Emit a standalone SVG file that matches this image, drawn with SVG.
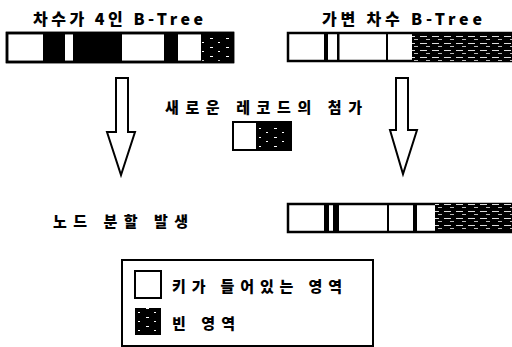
<svg xmlns="http://www.w3.org/2000/svg" width="512" height="347" viewBox="0 0 512 347">
<defs>
<pattern id="hatch" width="16" height="9" patternUnits="userSpaceOnUse">
<rect width="16" height="9" fill="#000"/>
<rect x="2" y="2" width="3" height="1" fill="#fff"/>
<rect x="10" y="6" width="2" height="1" fill="#fff"/>
</pattern>
<pattern id="hatch2" width="12" height="7" patternUnits="userSpaceOnUse">
<rect width="12" height="7" fill="#000"/>
<rect x="0" y="1" width="7" height="1" fill="#ddd"/>
<rect x="6" y="4" width="4" height="1" fill="#bbb"/>
</pattern>
</defs>
<style>
text{font-family:"Noto Sans CJK KR","Noto Sans",sans-serif;font-weight:900;fill:#000}
.t{font-size:16px}
.l{font-size:15px}
.bar{fill:#fff;stroke:#000;stroke-width:2.5}
.blk{fill:#000}
.arrow{fill:#fff;stroke:#000;stroke-width:2;stroke-linejoin:miter}
.box{fill:#fff;stroke:#000;stroke-width:2}
</style>
<rect width="512" height="347" fill="#fff"/>
<g id="title-left"><text class="t" x="33" y="25" textLength="170" lengthAdjust="spacing">차수가 4인 B-Tree</text></g>
<g id="title-right"><text class="t" x="322" y="25" textLength="160" lengthAdjust="spacing">가변 차수 B-Tree</text></g>
<g id="bar-left">
<rect class="bar" x="7" y="33" width="226" height="29"/>
<rect class="blk" x="43" y="33" width="22" height="29"/>
<rect class="blk" x="73" y="33" width="49" height="29"/>
<rect class="blk" x="164" y="33" width="14" height="29"/>
<rect x="201" y="33" width="32" height="29" fill="url(#hatch)"/>
<rect x="7" y="33" width="226" height="29" fill="none" stroke="#000" stroke-width="2.5"/>
</g>
<g id="bar-right">
<rect class="bar" x="288" y="33" width="228" height="28"/>
<rect class="blk" x="324" y="33" width="4" height="28"/>
<rect class="blk" x="337" y="33" width="2.5" height="28"/>
<rect class="blk" x="386" y="33" width="2" height="28"/>
<rect x="412" y="33" width="102" height="28" fill="url(#hatch2)"/>
</g>
<g id="label-add"><text class="l" x="165" y="113" textLength="197" lengthAdjust="spacing">새로운 레코드의 첨가</text></g>
<g id="record">
<rect class="blk" x="232" y="121" width="60" height="30"/>
<rect class="box" x="233" y="122" width="24" height="28"/>
<rect x="259" y="124" width="31" height="25" fill="url(#hatch)"/>
</g>
<g id="connectors">
<polygon class="arrow" points="116,78 128,78 128,132 135,132 121,175 107,132 116,132"/>
<polygon class="arrow" points="396,78 408,78 408,130 417,130 403,174 390,130 396,130"/>
</g>
<g id="label-split"><text class="l" x="53" y="227" textLength="135" lengthAdjust="spacing">노드 분할 발생</text></g>
<g id="bar-split">
<rect class="bar" x="288" y="204" width="228" height="28"/>
<rect class="blk" x="324" y="204" width="5" height="28"/>
<rect class="blk" x="333" y="204" width="6" height="28"/>
<rect class="blk" x="387" y="204" width="2" height="28"/>
<rect class="blk" x="413" y="204" width="4" height="28"/>
<rect x="435" y="204" width="79" height="28" fill="url(#hatch2)"/>
</g>
<g id="legend">
<rect x="122" y="260" width="251" height="86" fill="#fff" stroke="#000" stroke-width="2"/>
<rect class="box" x="135" y="271" width="26" height="27"/>
<text class="l" x="172" y="292" textLength="170" lengthAdjust="spacing">키가 들어있는 영역</text>
<rect x="135" y="308" width="26" height="27" fill="url(#hatch)"/>
<text class="l" x="172" y="329" textLength="63" lengthAdjust="spacing">빈 영역</text>
</g>
</svg>
